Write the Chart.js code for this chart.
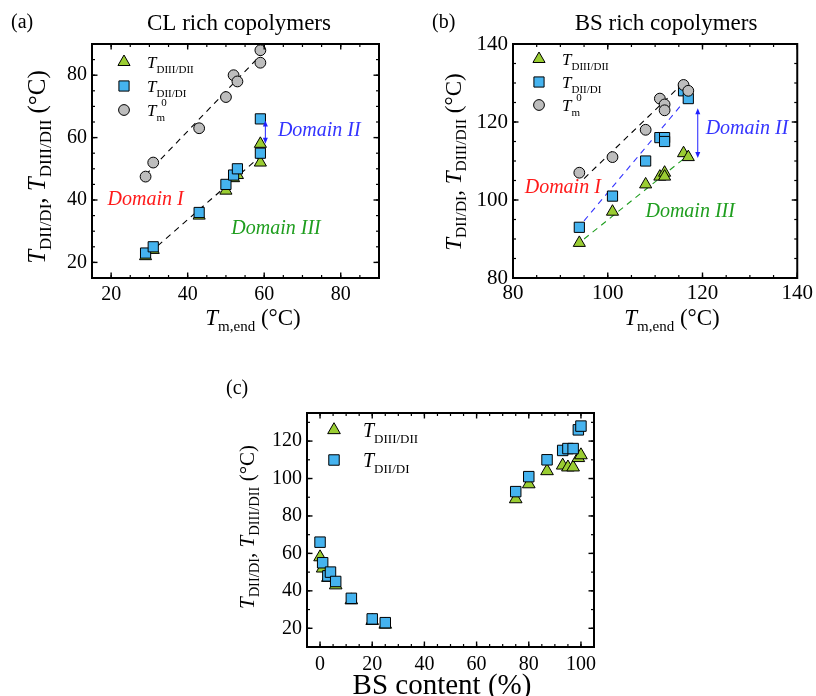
<!DOCTYPE html>
<html>
<head>
<meta charset="utf-8">
<script src="https://cdn.jsdelivr.net/npm/chart.js@4.4.1/dist/chart.umd.min.js"></script>
<style>
  html, body { margin: 0; padding: 0; background: #fff; }
  body { width: 816px; height: 696px; position: relative; overflow: hidden; }
  canvas { position: absolute; left: 0; top: 0; }
</style>
</head>
<body>
<canvas id="panelA" width="816" height="696"></canvas>
<canvas id="panelB" width="816" height="696"></canvas>
<canvas id="panelC" width="816" height="696"></canvas>
<script>
// ---------- (a) CL rich copolymers ----------
const clTmEnd    = [29, 31, 43, 50, 52, 53, 59, 59];
const clTDIIIDII = [22, 24, 35, 43, 47, 48, 58, 52];
const clTDIIDI   = [23, 25, 36, 45, 48, 50, 55, 66];
const clTm0      = [47.5, 52, 63, 73, 80, 78, 84, 88];
const clFitTm0X  = [29, 59.5];
const clFitTm0Y  = [48, 87];
const clFitLowX  = [30, 59];
const clFitLowY  = [23, 54];
const clXTicks   = [20, 40, 60, 80];
const clYTicks   = [20, 40, 60, 80];

// ---------- (b) BS rich copolymers ----------
const bsTmEnd    = [94, 101, 108, 111, 112, 112, 116, 117];
const bsTDIIIDII = [89, 97, 104, 106, 107, 106, 112, 111];
const bsTDIIDI   = [93, 101, 110, 116, 116, 115, 128, 126];
const bsTm0      = [107, 111, 118, 126, 124.5, 123, 129.5, 128];
const bsFitTm0X  = [95, 115.5];
const bsFitTm0Y  = [105.5, 129.5];
const bsFitDIX   = [93.5, 117];
const bsFitDIY   = [92.5, 126.5];
const bsFitDIIX  = [95, 117];
const bsFitDIIY  = [90, 111.5];
const bsXTicks   = [80, 100, 120, 140];
const bsYTicks   = [80, 100, 120, 140];

// ---------- (c) whole composition range ----------
const bsContent  = [0, 1, 3, 4, 6, 12, 20, 25, 75, 80, 87, 93, 95, 97, 99, 100];
const allTDIIDI  = [66, 55, 48, 50, 45, 36, 25, 23, 93, 101, 110, 115, 116, 116, 126, 128];
const allTDIIIDII= [58, 52, 47, 48, 43, 35, 24, 22, 89, 97, 104, 107, 106, 106, 111, 112.5];
const cXTicks    = [0, 20, 40, 60, 80, 100];
const cYTicks    = [20, 40, 60, 80, 100, 120];

// ---------- styling ----------
const FF = '"Liberation Serif", "Times New Roman", Times, serif';
const W = 816, H = 696;
const GREEN_FILL = '#9acd32';
const BLUE_FILL  = '#45b3ef';
const GREY_FILL  = '#bdbdbd';
const RED_TXT    = '#ff1a1a';
const BLUE_TXT   = '#3434ff';
const GREEN_TXT  = '#1f9e1f';

const pts = (xs, ys) => xs.map((x, i) => ({ x, y: ys[i] }));

function triangles(xs, ys, r) {
  return { data: pts(xs, ys), pointStyle: 'triangle', pointRadius: r, backgroundColor: GREEN_FILL,
           borderColor: '#000', borderWidth: 1, order: 3 };
}
function squares(xs, ys, r) {
  return { data: pts(xs, ys), pointStyle: 'rect', pointRadius: r, backgroundColor: BLUE_FILL,
           borderColor: '#000', borderWidth: 1, order: 2 };
}
function circles(xs, ys, r) {
  return { data: pts(xs, ys), pointStyle: 'circle', pointRadius: r, backgroundColor: GREY_FILL,
           borderColor: '#000', borderWidth: 1, order: 1 };
}
function dashed(xs, ys, color) {
  return { data: pts(xs, ys), showLine: true, pointRadius: 0, borderColor: color, borderWidth: 1.1,
           borderDash: [6, 5], fill: false, order: 10 };
}

// ---------- rich text (italic symbols, sub/superscripts) ----------
function fontOf(p) { return (p.italic ? 'italic ' : '') + p.size + 'px ' + FF; }
function drawRich(ctx, parts, x, y, align, rot) {
  ctx.save();
  ctx.translate(x, y);
  if (rot) ctx.rotate(rot);
  let w = 0;
  for (const p of parts) { ctx.font = fontOf(p); p._w = ctx.measureText(p.text).width; w += p._w + (p.dx || 0); }
  let cx = align === 'center' ? -w / 2 : (align === 'right' ? -w : 0);
  ctx.textAlign = 'left';
  ctx.textBaseline = 'alphabetic';
  for (const p of parts) {
    ctx.font = fontOf(p);
    ctx.fillStyle = p.color || '#000';
    ctx.fillText(p.text, cx + (p.dx || 0), p.dy || 0);
    cx += p._w + (p.dx || 0);
  }
  ctx.restore();
}
function yTitleParts(T, s) {
  return [
    { text: 'T', italic: true, size: T }, { text: 'DII/DI', size: s, dy: T * 0.22 },
    { text: ', ', size: T },
    { text: 'T', italic: true, size: T }, { text: 'DIII/DII', size: s, dy: T * 0.22 },
    { text: ' (°C)', size: T }
  ];
}
function tmEndParts(T, s) {
  return [ { text: 'T', italic: true, size: T }, { text: 'm,end', size: s, dy: T * 0.25 }, { text: ' (°C)', size: T } ];
}
function symParts(sub, T, s) {
  return [ { text: 'T', italic: true, size: T }, { text: sub, size: s, dy: T * 0.3 } ];
}
function tm0Parts(T, s) {
  return [ { text: 'T', italic: true, size: T }, { text: 'm', size: s, dy: T * 0.3 },
           { text: '0', size: s, dx: -s * 0.35, dy: -T * 0.55 } ];
}

function arrowHead(ctx, x, y, dir, len, half) {
  ctx.beginPath();
  ctx.moveTo(x, y);
  ctx.lineTo(x - half, y - dir * len);
  ctx.lineTo(x + half, y - dir * len);
  ctx.closePath();
  ctx.fill();
}

// ---------- frame, inward ticks, legend and annotations ----------
const decor = {
  id: 'decor',
  afterDraw(chart, args, o) {
    const ctx = chart.ctx, ca = chart.chartArea, xs = chart.scales.x, ys = chart.scales.y;
    ctx.save();
    ctx.strokeStyle = '#000';
    const seg = (x1, y1, x2, y2) => { ctx.beginPath(); ctx.moveTo(x1, y1); ctx.lineTo(x2, y2); ctx.stroke(); };
    const xTick = (v, len) => { const p = xs.getPixelForValue(v); seg(p, ca.bottom, p, ca.bottom - len); seg(p, ca.top, p, ca.top + len); };
    const yTick = (v, len) => { const p = ys.getPixelForValue(v); seg(ca.left, p, ca.left + len, p); seg(ca.right, p, ca.right - len, p); };
    ctx.lineWidth = 1.2;
    for (let v = Math.ceil(xs.min / o.xMinor) * o.xMinor; v <= xs.max + 1e-9; v += o.xMinor) xTick(v, 3);
    for (let v = Math.ceil(ys.min / o.yMinor) * o.yMinor; v <= ys.max + 1e-9; v += o.yMinor) yTick(v, 3);
    ctx.lineWidth = 1.4;
    xs.ticks.forEach(t => xTick(t.value, 5.5));
    ys.ticks.forEach(t => yTick(t.value, 5.5));
    ctx.lineWidth = 2;
    ctx.strokeRect(ca.left, ca.top, ca.right - ca.left, ca.bottom - ca.top);

    // legend
    const lg = o.legend;
    lg.entries.forEach((e, i) => {
      const ds = chart.data.datasets[e.ds];
      const y = lg.y + i * lg.dy;
      ctx.fillStyle = ds.backgroundColor;
      ctx.strokeStyle = '#000';
      ctx.lineWidth = 1;
      Chart.helpers.drawPoint(ctx, { pointStyle: ds.pointStyle, radius: ds.pointRadius, rotation: 0, borderWidth: 1 }, lg.x, y);
      drawRich(ctx, e.parts, lg.textX, y + lg.size * 0.33, 'left', 0);
    });

    // domain labels (placed in data coordinates)
    (o.domains || []).forEach(d => {
      ctx.font = 'italic ' + d.size + 'px ' + FF;
      ctx.fillStyle = d.color;
      ctx.textAlign = 'center';
      ctx.textBaseline = 'middle';
      ctx.fillText(d.text, xs.getPixelForValue(d.x), ys.getPixelForValue(d.y));
    });

    // double-headed arrows (data coordinates)
    (o.arrows || []).forEach(a => {
      const px = xs.getPixelForValue(a.x), y1 = ys.getPixelForValue(a.y1), y2 = ys.getPixelForValue(a.y2);
      ctx.strokeStyle = a.color; ctx.fillStyle = a.color; ctx.lineWidth = 1;
      seg(px, y1 - 4, px, y2 + 4);
      arrowHead(ctx, px, y2, -1, 6, 2.5);
      arrowHead(ctx, px, y1, 1, 6, 2.5);
    });

    // titles and axis labels (page coordinates)
    (o.texts || []).forEach(t => drawRich(ctx, t.parts, t.x, t.y, t.align, t.rot));
    ctx.restore();
  }
};

function makeChart(id, box, xr, yr, xTicks, yTicks, datasets, tickSize, tickPad, decorOpts) {
  const yW = 60, xH = 40;
  return new Chart(document.getElementById(id), {
    type: 'scatter',
    data: { datasets },
    options: {
      responsive: false, animation: false, events: [],
      layout: { autoPadding: false,
                padding: { left: box.l - yW, top: box.t, right: W - box.r, bottom: H - box.b - xH } },
      plugins: { legend: { display: false }, tooltip: { enabled: false }, decor: decorOpts },
      scales: {
        x: { type: 'linear', min: xr[0], max: xr[1],
             afterBuildTicks: s => { s.ticks = xTicks.map(v => ({ value: v })); },
             afterFit: s => { s.height = xH; },
             grid: { display: false, drawTicks: false }, border: { display: false },
             ticks: { font: { family: FF, size: tickSize }, color: '#000', padding: tickPad.x, maxRotation: 0, autoSkip: false } },
        y: { type: 'linear', min: yr[0], max: yr[1],
             afterBuildTicks: s => { s.ticks = yTicks.map(v => ({ value: v })); },
             afterFit: s => { s.width = yW; },
             grid: { display: false, drawTicks: false }, border: { display: false },
             ticks: { font: { family: FF, size: tickSize }, color: '#000', padding: tickPad.y, autoSkip: false } }
      }
    },
    plugins: [decor]
  });
}

// (a)
makeChart('panelA', { l: 92, t: 44, r: 379, b: 278 }, [15, 90], [15, 90], clXTicks, clYTicks, [
  dashed(clFitTm0X, clFitTm0Y, '#000'),
  dashed(clFitLowX, clFitLowY, '#000'),
  triangles(clTmEnd, clTDIIIDII, 7),
  squares(clTmEnd, clTDIIDI, 7.2),
  circles(clTmEnd, clTm0, 5.4)
], 20, { x: 5, y: 5 }, {
  xMinor: 5, yMinor: 5,
  legend: { x: 124, y: 62, dy: 24, textX: 147, size: 17, entries: [
    { ds: 2, parts: symParts('DIII/DII', 17, 11) },
    { ds: 3, parts: symParts('DII/DI', 17, 11) },
    { ds: 4, parts: tm0Parts(17, 11) } ] },
  domains: [
    { text: 'Domain I',   x: 29,   y: 40,   color: RED_TXT,   size: 20 },
    { text: 'Domain II',  x: 74.4, y: 62.3, color: BLUE_TXT,  size: 20 },
    { text: 'Domain III', x: 63.1, y: 30.9, color: GREEN_TXT, size: 20 } ],
  arrows: [ { x: 60.3, y1: 58, y2: 65.5, color: '#2020ff' } ],
  texts: [
    { parts: [{ text: '(a)', size: 20 }], x: 11, y: 28, align: 'left' },
    { parts: [{ text: 'CL rich copolymers', size: 23 }], x: 239, y: 30, align: 'center' },
    { parts: tmEndParts(23, 15), x: 253, y: 325, align: 'center' },
    { parts: yTitleParts(25, 17), x: 45, y: 167, align: 'center', rot: -Math.PI / 2 } ]
});

// (b)
makeChart('panelB', { l: 513, t: 44, r: 801, b: 278 }, [80, 140], [80, 140], bsXTicks, bsYTicks, [
  dashed(bsFitTm0X, bsFitTm0Y, '#000'),
  dashed(bsFitDIX, bsFitDIY, BLUE_TXT),
  dashed(bsFitDIIX, bsFitDIIY, GREEN_TXT),
  triangles(bsTmEnd, bsTDIIIDII, 7),
  squares(bsTmEnd, bsTDIIDI, 7.2),
  circles(bsTmEnd, bsTm0, 5.4)
], 21, { x: 3, y: 5 }, {
  xMinor: 5, yMinor: 5,
  legend: { x: 539, y: 59, dy: 23, textX: 562, size: 17, entries: [
    { ds: 3, parts: symParts('DIII/DII', 17, 11) },
    { ds: 4, parts: symParts('DII/DI', 17, 11) },
    { ds: 5, parts: tm0Parts(17, 11) } ] },
  domains: [
    { text: 'Domain I',   x: 90.5,  y: 103.1, color: RED_TXT,   size: 20 },
    { text: 'Domain II',  x: 129.4, y: 118.2, color: BLUE_TXT,  size: 20 },
    { text: 'Domain III', x: 117.4, y: 96.9,  color: GREEN_TXT, size: 20 } ],
  arrows: [ { x: 119, y1: 110.8, y2: 123.5, color: '#2020ff' } ],
  texts: [
    { parts: [{ text: '(b)', size: 20 }], x: 432, y: 28, align: 'left' },
    { parts: [{ text: 'BS rich copolymers', size: 23 }], x: 666, y: 30, align: 'center' },
    { parts: tmEndParts(23, 15), x: 672, y: 325, align: 'center' },
    { parts: yTitleParts(23, 15.5), x: 461, y: 162, align: 'center', rot: -Math.PI / 2 } ]
});

// (c)
makeChart('panelC', { l: 307, t: 413, r: 594, b: 647 }, [-5, 105], [10, 135], cXTicks, cYTicks, [
  triangles(bsContent, allTDIIIDII, 7.3),
  squares(bsContent, allTDIIDI, 7.4)
], 20, { x: 6, y: 5 }, {
  xMinor: 5, yMinor: 10,
  legend: { x: 334, y: 430, dy: 30, textX: 363, size: 20, entries: [
    { ds: 0, parts: symParts('DIII/DII', 20, 13) },
    { ds: 1, parts: symParts('DII/DI', 20, 13) } ] },
  texts: [
    { parts: [{ text: '(c)', size: 20 }], x: 226, y: 394, align: 'left' },
    { parts: [{ text: 'BS content (%)', size: 29 }], x: 442, y: 694, align: 'center' },
    { parts: yTitleParts(21, 14.5), x: 254, y: 527, align: 'center', rot: -Math.PI / 2 } ]
});
</script>
</body>
</html>
